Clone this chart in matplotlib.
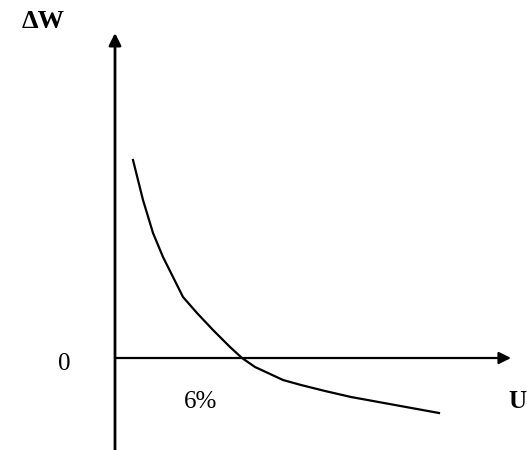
import numpy as np
import matplotlib.pyplot as plt

# Curve (x to the right of the ΔW axis, y above the U axis)
curve_x = [18, 28, 38, 48, 58, 68, 82, 98, 115, 127, 140, 153, 168, 186, 210, 236, 280, 324]
curve_y = [198, 158, 125, 101, 81, 61, 45, 28, 11, 0, -9, -15, -22, -27, -33, -39, -47, -55]

labels = {'y': '\u0394W', 'x': 'U', 'origin': '0', 'cross': '6%'}

fig = plt.figure(figsize=(5.27, 4.5), dpi=100)
ax = fig.add_axes([0, 0, 1, 1])
ax.set_xlim(-115, 412)
ax.set_ylim(-92, 358)
ax.axis('off')

# axes with arrow heads
ax.annotate('', xy=(0, 325), xytext=(0, -92),
            arrowprops=dict(arrowstyle='-|>', color='black', lw=2,
                            mutation_scale=18, shrinkA=0, shrinkB=0))
ax.annotate('', xy=(396, 0), xytext=(0, 0),
            arrowprops=dict(arrowstyle='-|>', color='black', lw=1.6,
                            mutation_scale=18, shrinkA=0, shrinkB=0))

ax.plot(curve_x, curve_y, color='black', lw=1.6, solid_joinstyle='round')

font = 'Liberation Serif'
ax.text(-72, 336, labels['y'], fontsize=19, fontweight='bold', family=font,
        ha='center', va='center')
ax.text(402, -43, labels['x'], fontsize=18, fontweight='bold', family=font,
        ha='center', va='center')
ax.text(-51, -6, labels['origin'], fontsize=18, family=font,
        ha='center', va='center')
ax.text(86, -44, labels['cross'], fontsize=18, family=font,
        ha='center', va='center')

fig.savefig('out.png', dpi=100)
